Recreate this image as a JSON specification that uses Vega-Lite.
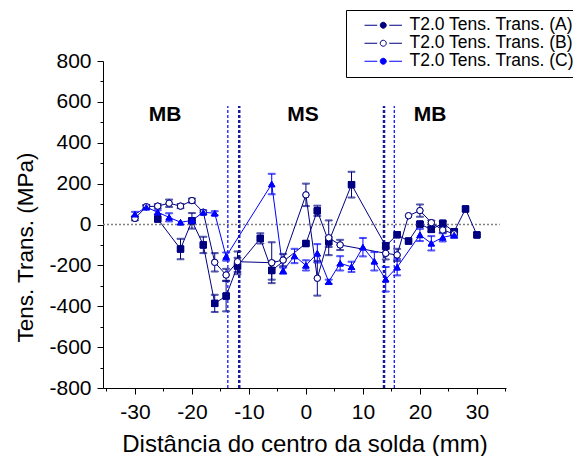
{
  "$schema": "https://vega.github.io/schema/vega-lite/v6.json",
  "width": 403,
  "height": 327,
  "autosize": {"type": "none"},
  "padding": {"left": 103, "top": 61, "right": 67, "bottom": 68},
  "background": "white",
  "resolve": {"axis": {"x": "independent", "y": "independent"}},
  "config": {
    "view": {"stroke": null},
    "font": "Liberation Sans",
    "legend": {
      "orient": "none",
      "legendX": 243,
      "legendY": -51,
      "padding": 6.5,
      "strokeColor": "black",
      "fillColor": "white",
      "labelFont": "Liberation Sans",
      "labelFontSize": 17.5,
      "labelColor": "black",
      "symbolSize": 225,
      "symbolType": "M-2.5,0H-0.8M0.8,0H2.5M0.4,0A0.4,0.4,0,1,1,-0.4,0A0.4,0.4,0,1,1,0.4,0Z",
      "rowPadding": -2,
      "symbolOffset": 22,
      "labelOffset": 17.5,
      "labelLimit": 400,
      "symbolStrokeWidth": 1
    }
  },
  "datasets": {
    "series": [
      {"s": "T2.0 Tens. Trans. (A)", "m": "A", "x": -26, "y": 27, "err": 0},
      {"s": "T2.0 Tens. Trans. (A)", "m": "A", "x": -22, "y": -120, "err": 50},
      {"s": "T2.0 Tens. Trans. (A)", "m": "A", "x": -20, "y": 18, "err": 38},
      {"s": "T2.0 Tens. Trans. (A)", "m": "A", "x": -18, "y": -100, "err": 40},
      {"s": "T2.0 Tens. Trans. (A)", "m": "A", "x": -16, "y": -386, "err": 42},
      {"s": "T2.0 Tens. Trans. (A)", "m": "A", "x": -14, "y": -350, "err": 75},
      {"s": "T2.0 Tens. Trans. (A)", "m": "A", "x": -12, "y": -203, "err": 40},
      {"s": "T2.0 Tens. Trans. (A)", "m": "A", "x": -8, "y": -68, "err": 25},
      {"s": "T2.0 Tens. Trans. (A)", "m": "A", "x": -6, "y": -225, "err": 45},
      {"s": "T2.0 Tens. Trans. (A)", "m": "A", "x": 0, "y": -93, "err": 0},
      {"s": "T2.0 Tens. Trans. (A)", "m": "A", "x": 2, "y": 67, "err": 25},
      {"s": "T2.0 Tens. Trans. (A)", "m": "A", "x": 4, "y": -85, "err": 25},
      {"s": "T2.0 Tens. Trans. (A)", "m": "A", "x": 8, "y": 195, "err": 63},
      {"s": "T2.0 Tens. Trans. (A)", "m": "A", "x": 14, "y": -105, "err": 15},
      {"s": "T2.0 Tens. Trans. (A)", "m": "A", "x": 16, "y": -50, "err": 0},
      {"s": "T2.0 Tens. Trans. (A)", "m": "A", "x": 18, "y": -81, "err": 0},
      {"s": "T2.0 Tens. Trans. (A)", "m": "A", "x": 20, "y": 2, "err": 10},
      {"s": "T2.0 Tens. Trans. (A)", "m": "A", "x": 22, "y": -24, "err": 12},
      {"s": "T2.0 Tens. Trans. (A)", "m": "A", "x": 24, "y": 6, "err": 10},
      {"s": "T2.0 Tens. Trans. (A)", "m": "A", "x": 26, "y": -35, "err": 10},
      {"s": "T2.0 Tens. Trans. (A)", "m": "A", "x": 28, "y": 76, "err": 0},
      {"s": "T2.0 Tens. Trans. (A)", "m": "A", "x": 30, "y": -51, "err": 0},
      {"s": "T2.0 Tens. Trans. (B)", "m": "B", "x": -30, "y": 30, "err": 10},
      {"s": "T2.0 Tens. Trans. (B)", "m": "B", "x": -28, "y": 87, "err": 8},
      {"s": "T2.0 Tens. Trans. (B)", "m": "B", "x": -26, "y": 90, "err": 10},
      {"s": "T2.0 Tens. Trans. (B)", "m": "B", "x": -24, "y": 104, "err": 18},
      {"s": "T2.0 Tens. Trans. (B)", "m": "B", "x": -22, "y": 90, "err": 10},
      {"s": "T2.0 Tens. Trans. (B)", "m": "B", "x": -20, "y": 117, "err": 10},
      {"s": "T2.0 Tens. Trans. (B)", "m": "B", "x": -18, "y": 60, "err": 0},
      {"s": "T2.0 Tens. Trans. (B)", "m": "B", "x": -16, "y": -185, "err": 45},
      {"s": "T2.0 Tens. Trans. (B)", "m": "B", "x": -14, "y": -247, "err": 30},
      {"s": "T2.0 Tens. Trans. (B)", "m": "B", "x": -12, "y": -182, "err": 50},
      {"s": "T2.0 Tens. Trans. (B)", "m": "B", "x": -6, "y": -187, "err": 100},
      {"s": "T2.0 Tens. Trans. (B)", "m": "B", "x": -4, "y": -174, "err": 30},
      {"s": "T2.0 Tens. Trans. (B)", "m": "B", "x": 0, "y": 145, "err": 55},
      {"s": "T2.0 Tens. Trans. (B)", "m": "B", "x": 2, "y": -263, "err": 85},
      {"s": "T2.0 Tens. Trans. (B)", "m": "B", "x": 4, "y": -65, "err": 85},
      {"s": "T2.0 Tens. Trans. (B)", "m": "B", "x": 6, "y": -100, "err": 25},
      {"s": "T2.0 Tens. Trans. (B)", "m": "B", "x": 14, "y": -141, "err": 30},
      {"s": "T2.0 Tens. Trans. (B)", "m": "B", "x": 16, "y": -149, "err": 30},
      {"s": "T2.0 Tens. Trans. (B)", "m": "B", "x": 18, "y": 43, "err": 0},
      {"s": "T2.0 Tens. Trans. (B)", "m": "B", "x": 20, "y": 68, "err": 30},
      {"s": "T2.0 Tens. Trans. (B)", "m": "B", "x": 22, "y": 9, "err": 10},
      {"s": "T2.0 Tens. Trans. (B)", "m": "B", "x": 24, "y": -27, "err": 12},
      {"s": "T2.0 Tens. Trans. (B)", "m": "B", "x": 26, "y": -46, "err": 10},
      {"s": "T2.0 Tens. Trans. (C)", "m": "C", "x": -30, "y": 50, "err": 12},
      {"s": "T2.0 Tens. Trans. (C)", "m": "C", "x": -28, "y": 85, "err": 10},
      {"s": "T2.0 Tens. Trans. (C)", "m": "C", "x": -26, "y": 60, "err": 10},
      {"s": "T2.0 Tens. Trans. (C)", "m": "C", "x": -24, "y": 35, "err": 20},
      {"s": "T2.0 Tens. Trans. (C)", "m": "C", "x": -22, "y": 11, "err": 0},
      {"s": "T2.0 Tens. Trans. (C)", "m": "C", "x": -20, "y": 20, "err": 10},
      {"s": "T2.0 Tens. Trans. (C)", "m": "C", "x": -18, "y": 60, "err": 10},
      {"s": "T2.0 Tens. Trans. (C)", "m": "C", "x": -16, "y": 55, "err": 10},
      {"s": "T2.0 Tens. Trans. (C)", "m": "C", "x": -14, "y": -157, "err": 20},
      {"s": "T2.0 Tens. Trans. (C)", "m": "C", "x": -6, "y": 198, "err": 50},
      {"s": "T2.0 Tens. Trans. (C)", "m": "C", "x": -4, "y": -226, "err": 15},
      {"s": "T2.0 Tens. Trans. (C)", "m": "C", "x": -2, "y": -154, "err": 35},
      {"s": "T2.0 Tens. Trans. (C)", "m": "C", "x": 0, "y": -200, "err": 25},
      {"s": "T2.0 Tens. Trans. (C)", "m": "C", "x": 2, "y": -141, "err": 45},
      {"s": "T2.0 Tens. Trans. (C)", "m": "C", "x": 4, "y": -280, "err": 10},
      {"s": "T2.0 Tens. Trans. (C)", "m": "C", "x": 6, "y": -190, "err": 35},
      {"s": "T2.0 Tens. Trans. (C)", "m": "C", "x": 8, "y": -207, "err": 25},
      {"s": "T2.0 Tens. Trans. (C)", "m": "C", "x": 10, "y": -111, "err": 45},
      {"s": "T2.0 Tens. Trans. (C)", "m": "C", "x": 12, "y": -180, "err": 45},
      {"s": "T2.0 Tens. Trans. (C)", "m": "C", "x": 14, "y": -268, "err": 60},
      {"s": "T2.0 Tens. Trans. (C)", "m": "C", "x": 16, "y": -209, "err": 40},
      {"s": "T2.0 Tens. Trans. (C)", "m": "C", "x": 20, "y": -51, "err": 30},
      {"s": "T2.0 Tens. Trans. (C)", "m": "C", "x": 22, "y": -92, "err": 35},
      {"s": "T2.0 Tens. Trans. (C)", "m": "C", "x": 24, "y": -63, "err": 20},
      {"s": "T2.0 Tens. Trans. (C)", "m": "C", "x": 26, "y": -51, "err": 15}
    ],
    "zero": [{"y": 0, "xa": -35.6, "xb": 34}],
    "thin": [{"x": -13.7, "ya": -800, "yb": 580}, {"x": 15.5, "ya": -800, "yb": 580}],
    "thick": [{"x": -11.7, "ya": -800, "yb": 580}, {"x": 13.7, "ya": -800, "yb": 580}],
    "labels": [
      {"t": "MB", "x": -24.7, "y": 538},
      {"t": "MS", "x": -0.5, "y": 538},
      {"t": "MB", "x": 21.8, "y": 538}
    ]
  },
  "layer": [
    {
      "data": {"name": "series"},
      "mark": {"type": "point", "filled": true, "size": 40, "strokeWidth": 1, "opacity": 1},
      "encoding": {
        "x": {
          "field": "x", "type": "quantitative",
          "title": "Distância do centro da solda (mm)",
          "scale": {"domain": [-35.6, 35.1], "nice": false, "zero": false},
          "axis": {
            "orient": "bottom",
            "values": [-30, -20, -10, 0, 10, 20, 30],
            "labelExpr": "'' + datum.value",
            "tickSize": 6,
            "labelOverlap": false,
            "labelFlush": false,
            "grid": false,
            "domainColor": "black",
            "tickColor": "black",
            "labelColor": "black",
            "titleColor": "black",
            "labelFont": "Liberation Sans",
            "labelFontSize": 21,
            "labelPadding": 7,
            "titleFont": "Liberation Sans",
            "titleFontSize": 24,
            "titleFontWeight": "normal",
            "titleBaseline": "alphabetic",
            "titleY": 63
          }
        },
        "y": {
          "field": "y", "type": "quantitative",
          "title": "Tens. Trans. (MPa)",
          "scale": {"domain": [-800, 800], "nice": false},
          "axis": {
            "orient": "left",
            "values": [-800, -600, -400, -200, 0, 200, 400, 600, 800],
            "labelExpr": "'' + datum.value",
            "tickSize": 6,
            "labelOverlap": false,
            "labelFlush": false,
            "grid": false,
            "domainColor": "black",
            "tickColor": "black",
            "labelColor": "black",
            "titleColor": "black",
            "labelFont": "Liberation Sans",
            "labelFontSize": 21,
            "labelPadding": 6,
            "titleFont": "Liberation Sans",
            "titleFontSize": 22.5,
            "titleFontWeight": "normal",
            "titleBaseline": "alphabetic",
            "titleX": -71,
            "titleY": 186
          }
        },
        "shape": {
          "field": "m", "type": "nominal",
          "scale": {"domain": ["A", "B", "C"], "range": ["square", "circle", "triangle-up"]},
          "legend": null
        },
        "stroke": {
          "field": "s", "type": "nominal",
          "scale": {"domain": ["T2.0 Tens. Trans. (A)", "T2.0 Tens. Trans. (B)", "T2.0 Tens. Trans. (C)"], "range": ["#000080", "#000080", "#0000FF"]},
          "legend": {
            "title": null,
            "symbolType": "M-2.5,0H-0.8M0.8,0H2.5M0.4,0A0.4,0.4,0,1,1,-0.4,0A0.4,0.4,0,1,1,0.4,0Z"
          }
        },
        "fill": {
          "field": "s", "type": "nominal",
          "scale": {"domain": ["T2.0 Tens. Trans. (A)", "T2.0 Tens. Trans. (B)", "T2.0 Tens. Trans. (C)"], "range": ["#000080", "#ffffff", "#0000FF"]},
          "legend": {
            "title": null,
            "symbolType": "M-2.5,0H-0.8M0.8,0H2.5M0.4,0A0.4,0.4,0,1,1,-0.4,0A0.4,0.4,0,1,1,0.4,0Z"
          }
        }
      }
    },
    {
      "data": {"name": "zero"},
      "mark": {"type": "rule", "color": "#808080", "strokeDash": [2, 2], "strokeWidth": 1.5},
      "encoding": {
        "x": {
          "field": "xa", "type": "quantitative",
          "axis": {"orient": "bottom", "title": null, "values": [-35, -25, -15, -5, 5, 15, 25, 35], "labels": false, "domain": false, "grid": false, "tickSize": 3, "tickColor": "black"}
        },
        "x2": {"field": "xb"},
        "y": {
          "field": "y", "type": "quantitative",
          "axis": {"orient": "left", "title": null, "values": [-700, -500, -300, -100, 100, 300, 500, 700], "labels": false, "domain": false, "grid": false, "tickSize": 3, "tickColor": "black"}
        }
      }
    },
    {
      "data": {"name": "thin"},
      "mark": {"type": "rule", "color": "#0000FF", "strokeDash": [3, 2], "strokeWidth": 1.2},
      "encoding": {
        "x": {"field": "x", "type": "quantitative", "axis": null},
        "y": {"field": "ya", "type": "quantitative", "axis": null},
        "y2": {"field": "yb"}
      }
    },
    {
      "data": {"name": "thick"},
      "mark": {"type": "rule", "color": "#1a1a99", "strokeDash": [3, 2], "strokeWidth": 2.5},
      "encoding": {
        "x": {"field": "x", "type": "quantitative", "axis": null},
        "y": {"field": "ya", "type": "quantitative", "axis": null},
        "y2": {"field": "yb"}
      }
    },
    {
      "data": {"name": "labels"},
      "mark": {"type": "text", "font": "Liberation Sans", "fontSize": 21, "fontWeight": "bold", "color": "black", "align": "center", "baseline": "middle"},
      "encoding": {
        "x": {"field": "x", "type": "quantitative", "axis": null},
        "y": {"field": "y", "type": "quantitative", "axis": null},
        "text": {"field": "t"}
      }
    },
    {
      "data": {"name": "series"},
      "mark": {"type": "line", "strokeWidth": 1},
      "encoding": {
        "x": {"field": "x", "type": "quantitative", "axis": null},
        "y": {"field": "y", "type": "quantitative", "axis": null},
        "stroke": {"field": "s", "type": "nominal", "legend": {"title": null}}
      }
    },
    {
      "data": {"name": "series"},
      "transform": [{"filter": "datum.err > 0"}],
      "mark": {"type": "errorbar", "ticks": {"size": 7}, "thickness": 1},
      "encoding": {
        "x": {"field": "x", "type": "quantitative", "axis": null},
        "y": {"field": "y", "type": "quantitative", "axis": null},
        "yError": {"field": "err"},
        "stroke": {"field": "s", "type": "nominal", "legend": {"title": null}}
      }
    },
    {
      "data": {"name": "series"},
      "mark": {"type": "point", "filled": true, "size": 40, "strokeWidth": 1, "opacity": 1},
      "encoding": {
        "x": {"field": "x", "type": "quantitative", "axis": null},
        "y": {"field": "y", "type": "quantitative", "axis": null},
        "shape": {"field": "m", "type": "nominal", "legend": null},
        "stroke": {"field": "s", "type": "nominal", "legend": {"title": null}},
        "fill": {"field": "s", "type": "nominal", "legend": {"title": null}}
      }
    }
  ]
}
